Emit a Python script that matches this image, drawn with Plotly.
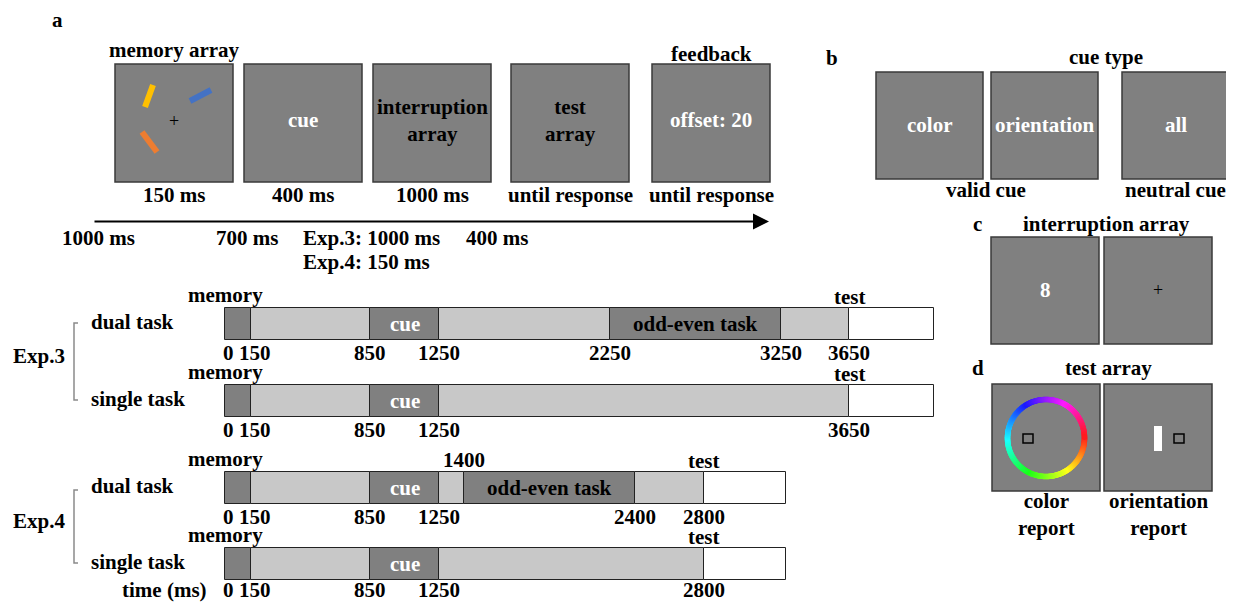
import numpy as np
import plotly.graph_objects as go

W, H = 1234, 602
OFF = 8  # page body margin of the html page
FONT = "Liberation Serif, Times New Roman, serif"
FS = 21
DARK = "#808080"
LIGHT = "#c8c8c8"
WHITE = "#ffffff"
EDGE = "#3a3a3a"

# ---------------- data ----------------
screen_inside = ["", "cue", "interruption<br>array", "test<br>array", "offset: 20"]
screen_above = ["memory array", "", "", "", "feedback"]
screen_durations = ["150 ms", "400 ms", "1000 ms", "until response", "until response"]
isi_labels = ["1000 ms", "700 ms", "Exp.3: 1000 ms", "400 ms"]
isi_label_exp4 = "Exp.4: 150 ms"

cue_types = ["color", "orientation", "all"]
cue_groups = ["valid cue", "neutral cue"]
interruption_items = ["8", "+"]
report_labels = ["color<br>report", "orientation<br>report"]

row_names = ["dual task", "single task", "dual task", "single task"]
exp_names = ["Exp.3", "Exp.4"]
row_bounds = [
    [0, 150, 850, 1250, 2250, 3250, 3650, 4150],
    [0, 150, 850, 1250, 3650, 4150],
    [0, 150, 850, 1250, 1400, 2400, 2800, 3280],
    [0, 150, 850, 1250, 2800, 3280],
]
row_kinds = [
    ["memory", "delay", "cue", "delay", "odd-even task", "delay", "test"],
    ["memory", "delay", "cue", "delay", "test"],
    ["memory", "delay", "cue", "delay", "odd-even task", "delay", "test"],
    ["memory", "delay", "cue", "delay", "test"],
]
row_ticks_below = [
    [0, 150, 850, 1250, 2250, 3250, 3650],
    [0, 150, 850, 1250, 3650],
    [0, 150, 850, 1250, 2400, 2800],
    [0, 150, 850, 1250, 2800],
]
row_ticks_above = [[], [], [1400], []]

# ---------------- layout positions (pixels) ----------------
row_y = [324, 401, 488, 564]
BAR_H = 32
X0 = 225.0                      # pixel of 0 ms
KPX = (849.0 - 225.0) / 3650.0  # pixels per ms

kind_color = {"memory": DARK, "cue": DARK, "odd-even task": DARK,
              "delay": LIGHT, "test": WHITE}
kind_text = {"cue": ("cue", "white"), "odd-even task": ("odd-even task", "black")}

fig = go.Figure()
shapes = []
ann = []


def b(t):
    return "<b>" + t + "</b>"


def text(x, y, t, xanchor="center", yanchor="middle", color="black", size=FS,
         bold=True, xref="x", yref="y", xshift=0):
    ann.append(dict(x=x, y=y, xref=xref, yref=yref, text=b(t) if bold else t,
                    showarrow=False, xanchor=xanchor, yanchor=yanchor, xshift=xshift,
                    borderpad=0,
                    font=dict(family=FONT, size=size, color=color)))


def box(x0, y0, w, h, fill=DARK, lw=1.5, color=EDGE, layer="below"):
    shapes.append(dict(type="rect", xref="x", yref="y", x0=x0, x1=x0 + w,
                       y0=y0, y1=y0 + h, fillcolor=fill,
                       line=dict(color=color, width=lw), layer=layer))


# ---------- panel a: trial sequence ----------
text(57, 20, "a")
scr_x = [115, 244, 373, 511, 652]
scr_w = 118
for i, x in enumerate(scr_x):
    box(x, 64, scr_w, 118)
    cx = x + scr_w / 2
    if screen_inside[i]:
        col = "white" if i in (1, 4) else "black"
        text(cx, 120, screen_inside[i], color=col)
    if screen_above[i]:
        text(cx, 50 if i == 0 else 54, screen_above[i])
    text(cx, 195, screen_durations[i])

# memory items
for (xa, ya, xb, yb, c) in [(153, 85, 145, 107, "#ffc000"),
                            (190, 101, 211, 90, "#4472c4"),
                            (142, 132, 157, 152, "#ed7d31")]:
    shapes.append(dict(type="line", xref="x", yref="y", x0=xa, y0=ya, x1=xb, y1=yb,
                       line=dict(color=c, width=6), layer="above"))
text(174, 121, "+", size=18, bold=False)

# time arrow
ann.append(dict(x=769, y=221.5, ax=93, ay=221.5, xref="x", yref="y", axref="x",
                ayref="y", text="", showarrow=True, arrowhead=2, arrowsize=1.6,
                arrowwidth=2, arrowcolor="black", standoff=0))
text(98, 238, isi_labels[0])
text(247, 238, isi_labels[1])
text(302, 238, isi_labels[2], xanchor="left")
text(302, 262, isi_label_exp4, xanchor="left")
text(497, 238, isi_labels[3])

# ---------- timelines ----------
for r in range(4):
    bnds = row_bounds[r]
    kinds = row_kinds[r]
    yc = row_y[r]
    for j, k in enumerate(kinds):
        fig.add_trace(go.Bar(
            orientation="h", x=[bnds[j + 1] - bnds[j]], base=[bnds[j]], y=[yc],
            width=BAR_H, xaxis="x2", yaxis="y",
            marker=dict(color=kind_color[k], line=dict(color="#222222", width=1)),
            hoverinfo="skip", showlegend=False))
        if k in kind_text:
            t, col = kind_text[k]
            text((bnds[j] + bnds[j + 1]) / 2, yc, t, color=col, xref="x2")
    ty = min(yc + BAR_H / 2 + 13, 590)
    for t in row_ticks_below[r]:
        if t == 0:
            text(t, ty, str(t), xref="x2", xshift=3)
        elif t == 150:
            text(t, ty, str(t), xref="x2", xshift=4)
        else:
            text(t, ty, str(t), xref="x2")
    for t in row_ticks_above[r]:
        text(t, yc - BAR_H / 2 - 12, str(t), xref="x2")
    text(0, yc - BAR_H / 2 - 13, "memory", xref="x2")
    test_on = bnds[kinds.index("test")]
    text(test_on, yc - BAR_H / 2 - 11, "test", xref="x2")
    text(90, yc - 2, row_names[r], xanchor="left")

text(208, 590, "time (ms)", xanchor="right")

# experiment labels with brackets
for e, (ya, yb) in enumerate([(323, 400), (490, 563)]):
    text(39, (ya + yb) / 2 - 6, exp_names[e])
    shapes.append(dict(type="path", xref="x", yref="y",
                       path=f"M 78 {ya} L 74 {ya} L 74 {yb} L 78 {yb}",
                       line=dict(color="#8a8a8a", width=1.5)))

# ---------- panel b: cue types ----------
text(832, 58, "b")
text(1106, 57, "cue type")
for i, x in enumerate([876, 991, 1122]):
    box(x, 72, 107, 107)
    text(x + 53.5, 125, cue_types[i], color="white")
text(986, 190, cue_groups[0])
text(1175, 190, cue_groups[1])

# ---------- panel c: interruption array ----------
text(977, 224, "c")
text(1106, 224, "interruption array")
for i, x in enumerate([991, 1104]):
    box(x, 237, 108, 107)
    if interruption_items[i] == "+":
        text(x + 54, 290, "+", size=18, bold=False)
    else:
        text(x + 54, 290, interruption_items[i], color="white")

# ---------- panel d: test array ----------
text(978, 368, "d")
text(1108, 368, "test array")
for i, x in enumerate([992, 1104]):
    box(x, 384, 108, 107)
    text(x + 54, 514, report_labels[i])

# colour wheel
hue = np.arange(0, 360, 1.0)
rad = np.deg2rad(hue)
cols = [f"hsl({h:.0f},100%,55%)" for h in hue]
fig.add_trace(go.Scatter(x=1046 + 38.5 * np.cos(rad), y=438 + 38.5 * np.sin(rad),
                         mode="markers", xaxis="x", yaxis="y",
                         marker=dict(color=cols, size=5.5, line=dict(width=0)),
                         hoverinfo="skip", showlegend=False))
shapes.append(dict(type="rect", xref="x", yref="y", x0=1023, x1=1033, y0=434, y1=443,
                   fillcolor=DARK, line=dict(color="black", width=1.5), layer="above"))
shapes.append(dict(type="rect", xref="x", yref="y", x0=1154, x1=1162, y0=426, y1=451,
                   fillcolor="white", line=dict(color="white", width=0), layer="above"))
shapes.append(dict(type="rect", xref="x", yref="y", x0=1174, x1=1184, y0=434, y1=443,
                   fillcolor=DARK, line=dict(color="black", width=1.5), layer="above"))

fig.update_layout(
    width=W - OFF, height=H - OFF, margin=dict(l=0, r=0, t=0, b=0),
    paper_bgcolor="white", plot_bgcolor="rgba(0,0,0,0)",
    barmode="overlay", bargap=0,
    xaxis=dict(range=[OFF, W], visible=False, fixedrange=True),
    xaxis2=dict(range=[(OFF - X0) / KPX, (W - X0) / KPX], overlaying="x", anchor="y",
                visible=False, fixedrange=True),
    yaxis=dict(range=[H, OFF], visible=False, fixedrange=True),
    shapes=shapes, annotations=ann, showlegend=False,
    font=dict(family=FONT, size=FS, color="black"),
)
fig.write_html("out.html")
